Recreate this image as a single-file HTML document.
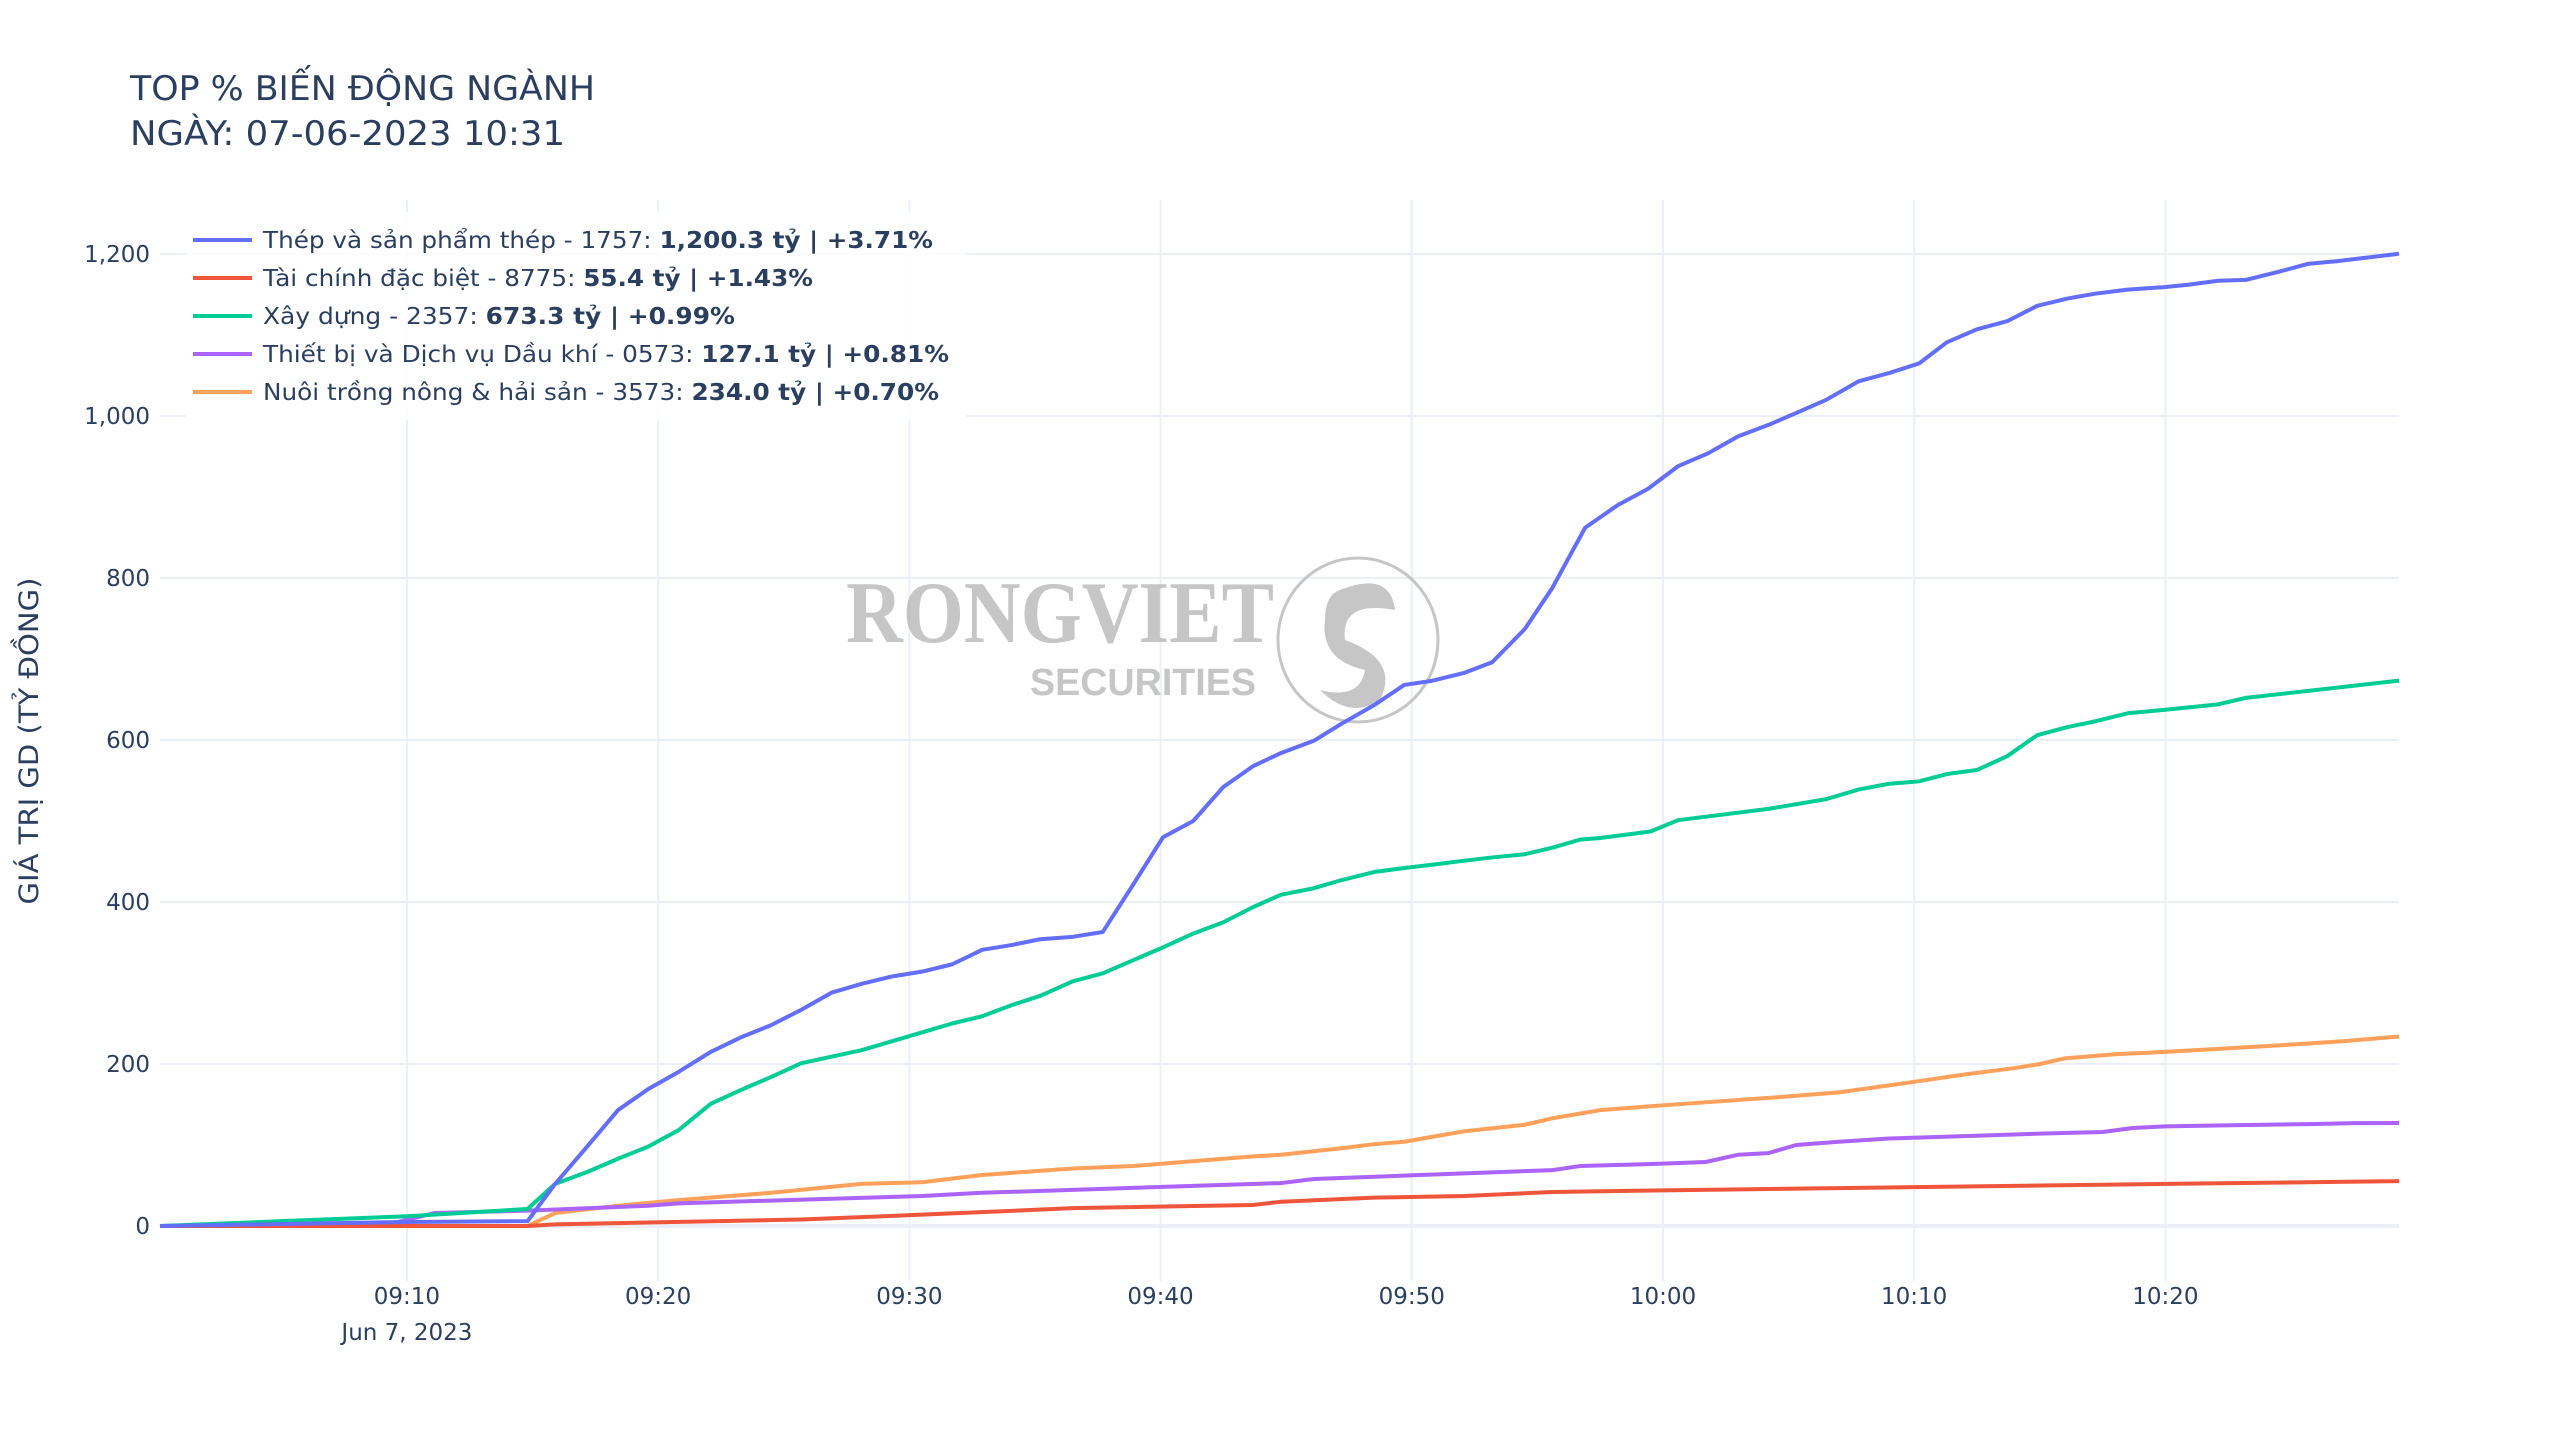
<!DOCTYPE html>
<html><head><meta charset="utf-8"><style>
html,body{margin:0;padding:0;background:#fff;width:2560px;height:1440px;overflow:hidden}
svg text{font-family:"DejaVu Sans","Liberation Sans",sans-serif;fill:#2a3f5f}
</style></head><body>
<svg id="chart" width="2560" height="1440" viewBox="0 0 2560 1440" xmlns="http://www.w3.org/2000/svg">
<text x="130" y="100" font-size="34" textLength="465" lengthAdjust="spacingAndGlyphs">TOP % BIẾN ĐỘNG NGÀNH</text>
<text x="130" y="145" font-size="34" textLength="435" lengthAdjust="spacingAndGlyphs">NGÀY: 07-06-2023 10:31</text>
<g id="grid"></g>
<g id="watermark" opacity="0.75">
<text x="846" y="642" font-size="88" font-weight="bold" style="fill:#b3b3b3;font-family:'Liberation Serif',serif" textLength="428" lengthAdjust="spacingAndGlyphs">RONGVIET</text>
<text x="1030" y="695" font-size="38" font-weight="bold" style="fill:#b3b3b3;font-family:'Liberation Sans',sans-serif" textLength="226" lengthAdjust="spacingAndGlyphs">SECURITIES</text>
<ellipse cx="1358" cy="640" rx="80" ry="82" fill="none" stroke="#b3b3b3" stroke-width="3"/>
<path d="M1340 590 Q1390 570 1395 610 Q1340 600 1345 640 Q1400 660 1380 700 Q1350 720 1320 690 Q1360 700 1365 670 Q1320 660 1325 620 Q1325 595 1340 590Z" fill="#b3b3b3"/>
</g>
<g id="series"></g>
<g id="legend"></g>
<text transform="translate(38,741) rotate(-90)" font-size="27" text-anchor="middle" textLength="327" lengthAdjust="spacingAndGlyphs">GIÁ TRỊ GD (TỶ ĐỒNG)</text>
</svg>
<script>
const yTicks=[0,200,400,600,800,1000,1200];
const yTickLabels=["0","200","400","600","800","1,000","1,200"];
const xTicks=[10,20,30,40,50,60,70,80];
const xTickLabels=["09:10","09:20","09:30","09:40","09:50","10:00","10:10","10:20"];
const names=["Thép và sản phẩm thép - 1757: ","Tài chính đặc biệt - 8775: ","Xây dựng - 2357: ","Thiết bị và Dịch vụ Dầu khí - 0573: ","Nuôi trồng nông & hải sản - 3573: "];
const boldLabels=["1,200.3 tỷ | +3.71%","55.4 tỷ | +1.43%","673.3 tỷ | +0.99%","127.1 tỷ | +0.81%","234.0 tỷ | +0.70%"];
const colors=["#636efa","#ef553b","#00cc96","#ab63fa","#ffa15a"];
const steelT=[0.17,10,14.8,15.9,17.2,18.4,19.6,20.8,22.1,23.3,24.5,25.7,26.9,28.1,29.3,30.5,31.7,32.9,34.1,35.2,36.5,37.7,38.9,40.1,41.3,42.5,43.7,44.8,46.1,47.2,48.5,49.7,50.8,52.1,53.2,54.5,55.6,56.9,58.2,59.4,60.6,61.8,63,64.2,65.4,66.5,67.8,69,70.2,71.3,72.5,73.7,74.9,76.1,77.2,78.5,79.9,80.9,82.1,83.2,84.5,85.7,86.8,89.3];
const steelV=[0,5,6,52,99,143,169,190,215,233,248,267,288,299,308,314,323,341,347,354,357,363,421,480,500,542,568,584,599,620,643,668,673,683,696,737,788,862,890,910,938,954,975,989,1005,1020,1043,1053,1065,1091,1107,1117,1136,1145,1151,1156,1159,1162,1167,1168,1178,1188,1191,1200.3];
const finT=[0.17,14.8,15.9,25.7,30.5,36.5,43.7,44.8,48.5,52.1,55.6,60,70,80,89.3];
const finV=[0,0,2,8,14,22,26,30,35,37,42,44,48,52,55.4];
const consT=[0.17,5,10,14.8,15.9,17.2,18.4,19.6,20.8,22.1,23.3,24.5,25.7,26.9,28.1,29.3,30.5,31.7,32.9,34.1,35.2,36.5,37.7,38.9,40.1,41.3,42.5,43.7,44.8,46.1,47.2,48.5,49.7,50.8,52.1,53.2,54.5,55.6,56.7,57.5,59.5,60.6,64.2,66.5,67.8,69,70.2,71.3,72.5,73.7,74.9,76.1,77.2,78.5,79.9,82.1,83.2,89.3];
const consV=[0,6,12,21,52,67,83,98,118,151,168,184,201,209,217,228,239,250,259,273,284,302,312,328,344,361,375,394,409,417,427,437,442,446,451,455,459,467,477,479,487,501,515,527,539,546,549,558,563,580,606,616,623,633,637,644,652,673.3];
const oilT=[0.17,9.5,11.1,14.8,19.6,20.8,30.5,32.9,44.8,46.1,55.6,56.7,60,61.7,63,64.2,65.3,67,69,72,75,77.5,78.7,80,82,86,87.5,89.3];
const oilV=[0,4,16,19,25,28,37,41,53,58,69,74,77,79,88,90,100,104,108,111,114,116,121,123,124,126,127,127.1];
const fishT=[0.17,14.8,15.9,18.4,20.8,24.5,28.1,30.5,32.9,36.5,38.9,42.5,43.7,44.8,47.2,48.5,49.7,50.8,52.1,54.5,55.6,57.5,60,65,67,70,72,74,75,76,78,80,84,87,89.3];
const fishV=[0,0,16,25,32,41,52,54,63,71,74,83,86,88,96,101,104,110,117,125,133,143,149,160,165,178,187,195,200,207,212,215,222,228,234];

const NS="http://www.w3.org/2000/svg";
const X0=160,X1=2399,T0=0.17,T1=89.3,Y0=1226,PPU=0.81;
const legendTextLen=[670,550,472,686,676];
function sx(t){return X0+(t-T0)*(X1-X0)/(T1-T0);}
function sy(v){return Y0-v*PPU;}
function mk(tag,attrs,parent){const e=document.createElementNS(NS,tag);for(const k in attrs)e.setAttribute(k,attrs[k]);parent.appendChild(e);return e;}
const grid=document.getElementById('grid');
yTicks.forEach((v,i)=>{
 const l=mk('line',{x1:X0,x2:X1,y1:sy(v),y2:sy(v),stroke:'#ebf0f8','stroke-width':v===0?4:2},grid);
 
 
 const t=mk('text',{x:150,y:sy(v)+8,'font-size':23,'text-anchor':'end'},grid);
 t.textContent=yTickLabels[i];
 
 
});
xTicks.forEach((m,i)=>{
 const l=mk('line',{x1:sx(m),x2:sx(m),y1:200,y2:1281,stroke:'#ebf0f8','stroke-width':2},grid);
 
 
 const t=mk('text',{x:sx(m),y:1304,'font-size':23,'text-anchor':'middle'},grid);
 t.textContent=xTickLabels[i];
 
 
});
const dl=mk('text',{x:sx(10),y:1340,'font-size':23,'text-anchor':'middle'},grid);
dl.textContent="Jun 7, 2023";


const series=document.getElementById('series');
const data=[[steelT,steelV],[finT,finV],[consT,consV],[oilT,oilV],[fishT,fishV]];
const snames=['steel-line','finance-line','construction-line','oil-services-line','aquaculture-line'];
[4,3,1,2,0].forEach(i=>{
 const [T,V]=data[i];
 const p=mk('polyline',{points:T.map((t,j)=>sx(t)+','+sy(V[j])).join(' '),fill:'none',stroke:colors[i],'stroke-width':4,'stroke-linejoin':'round'},series);
 
 
});
const lg=document.getElementById('legend');
const bg=mk('rect',{x:186,y:212,width:780,height:208,fill:'#fff','fill-opacity':0.85},lg);


names.forEach((n,i)=>{
 const cy=240+i*38;
 const g=mk('g',{},lg);
 
 
 mk('line',{x1:193,x2:252,y1:cy,y2:cy,stroke:colors[i],'stroke-width':4},g);
 const t=mk('text',{x:263,y:cy+8,'font-size':23,textLength:legendTextLen[i],lengthAdjust:'spacingAndGlyphs'},g);
 t.textContent=n;
 const b=mk('tspan',{'font-weight':'bold'},t);
 b.textContent=boldLabels[i];
});
</script>
</body></html>
